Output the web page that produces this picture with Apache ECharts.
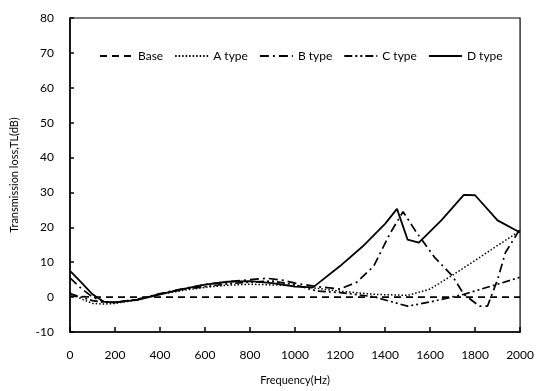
<!DOCTYPE html>
<html><head><meta charset="utf-8">
<script src="https://cdn.jsdelivr.net/npm/echarts@6/dist/echarts.min.js"></script>
<style>html,body{margin:0;padding:0;background:#fff}#c{width:537px;height:391px}</style>
</head><body><div id="c"></div>
<script>
var seriesNames = ['Base', 'A type', 'B type', 'C type', 'D type'];
var xTicks = [0, 200, 400, 600, 800, 1000, 1200, 1400, 1600, 1800, 2000];
var yTicks = [-10, 0, 10, 20, 30, 40, 50, 60, 70, 80];

var baseData = [[0,0.3],[100,0],[500,0],[1000,0],[1500,0],[2000,0]];
var aData = [[0,1.2],[50,-0.5],[100,-1.8],[150,-2],[200,-1.8],[300,-0.8],[400,0.8],[500,1.9],[600,2.8],[700,3.4],[800,3.7],[900,3.5],[1000,3.3],[1100,2.5],[1200,1.7],[1350,0.8],[1500,0.5],[1600,2.3],[1700,6.3],[1800,10.5],[1900,14.8],[2000,19]];
var bData = [[0,5.5],[50,2.5],[100,0],[150,-1.3],[200,-1.5],[300,-0.6],[400,1],[500,2.4],[600,3.6],[700,4.4],[800,5],[875,5.4],[950,4.8],[1000,4],[1100,3],[1200,2.3],[1275,4.3],[1350,8.9],[1420,18],[1480,24.5],[1540,18.5],[1620,11.4],[1700,6],[1750,0.8],[1820,-2.6],[1855,-2.6],[1900,5],[1935,12.8],[2000,19.5]];
var cData = [[0,1],[50,0],[100,-1],[150,-1.5],[200,-1.5],[300,-0.7],[400,0.9],[500,2.2],[600,3],[700,3.8],[800,4.3],[900,4.6],[1000,3.5],[1100,1.7],[1200,1.3],[1350,0.1],[1500,-2.6],[1600,-1.4],[1750,0.8],[1900,3.7],[2000,5.7]];
var dData = [[0,7.5],[50,4.2],[100,0.8],[150,-1.3],[200,-1.5],[300,-0.8],[400,0.8],[500,2.3],[600,3.6],[700,4.4],[800,4.6],[900,4],[1000,3],[1080,2.8],[1200,8.9],[1300,14.5],[1400,21],[1453,25.3],[1500,16.5],[1550,15.6],[1650,22],[1750,29.3],[1800,29.2],[1900,22],[2000,18.5]];

var font = 'Lato, "Open Sans", sans-serif';
function mk(name, data, type, w) {
  return {name: name, type: 'line', data: data, symbol: 'none', showSymbol: false, smooth: false,
    lineStyle: {color: '#000', width: w, type: type}, itemStyle: {color: '#000'}};
}
var chart = echarts.init(document.getElementById('c'));
chart.setOption({
  animation: false,
  grid: {left: 70, right: 16, top: 18, bottom: 58, show: true, borderColor: '#000', borderWidth: 1.2},
  legend: {top: 45, left: 94, itemWidth: 33, itemHeight: 10, itemGap: 11,
    itemStyle: {opacity: 0},
    textStyle: {fontFamily: font, fontSize: 12, color: '#000'},
    data: seriesNames.map(function(n){return {name: n};})},
  xAxis: {
    type: 'value', min: 0, max: 2000, interval: 200,
    axisLine: {show: true, onZero: false, lineStyle: {color: '#000', width: 1.5}},
    axisTick: {show: true, inside: true, length: 5, lineStyle: {color: '#000', width: 1.5}},
    splitLine: {show: false},
    axisLabel: {color: '#000', fontFamily: font, fontSize: 12, margin: 17,
      formatter: function(v){ return xTicks.indexOf(v) >= 0 ? String(v) : ''; }},
    name: 'Frequency(Hz)', nameLocation: 'middle', nameGap: 43,
    nameTextStyle: {color: '#000', fontFamily: font, fontSize: 11}
  },
  yAxis: {
    type: 'value', min: -10, max: 80, interval: 10,
    axisLine: {show: true, onZero: false, lineStyle: {color: '#000', width: 1.5}},
    axisTick: {show: true, inside: true, length: 4, lineStyle: {color: '#000', width: 1.5}},
    splitLine: {show: false},
    axisLabel: {color: '#000', fontFamily: font, fontSize: 12, margin: 16,
      formatter: function(v){ return yTicks.indexOf(v) >= 0 ? String(v) : ''; }},
    name: 'Transmission loss,TL(dB)', nameLocation: 'middle', nameGap: 50,
    nameTextStyle: {color: '#000', fontFamily: font, fontSize: 11}
  },
  series: [
    mk(seriesNames[0], baseData, [7, 5], 1.7),
    mk(seriesNames[1], aData, [1.5, 2], 1.5),
    mk(seriesNames[2], bData, [9, 4, 2, 4], 1.7),
    mk(seriesNames[3], cData, [8, 3, 2, 3, 2, 3], 1.7),
    mk(seriesNames[4], dData, 'solid', 1.8)
  ]
});
</script></body></html>
